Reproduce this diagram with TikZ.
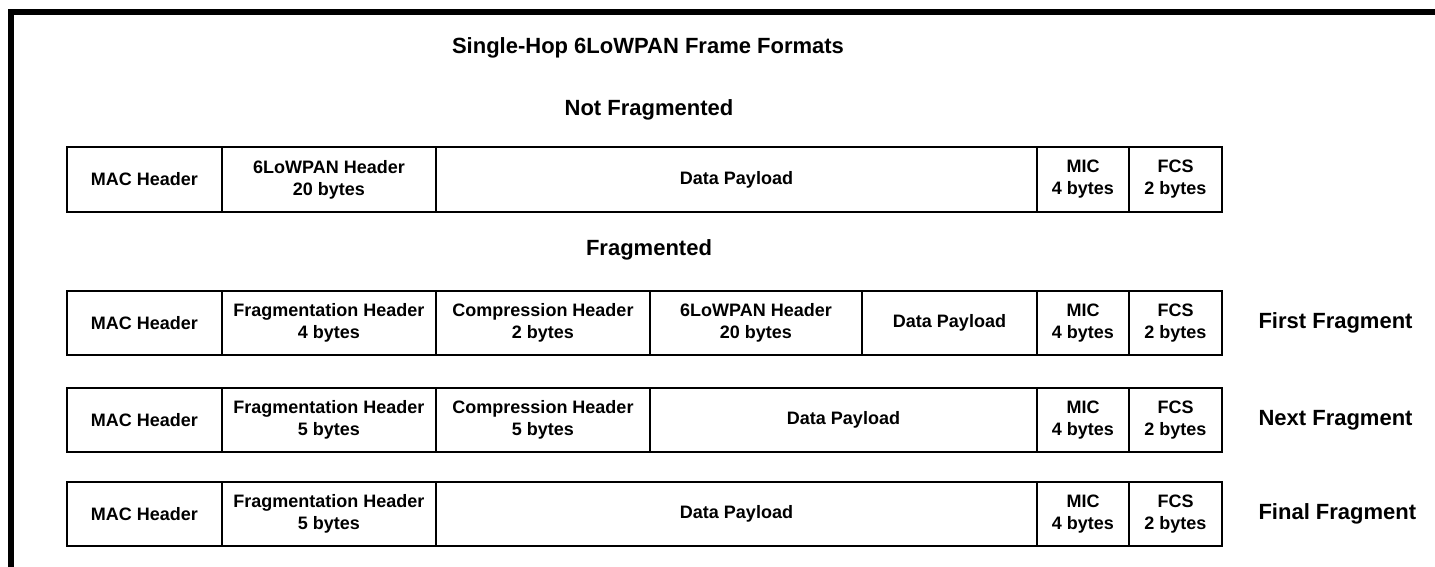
\documentclass[tikz,border=0pt]{standalone}
\usepackage{fontspec}
\setmainfont{Liberation Sans}
\usetikzlibrary{positioning}
\tikzset{
  campo/.style={draw, line width=2pt, minimum height=64pt, inner sep=0pt,
    outer sep=0pt, align=center, font=\bfseries\fontsize{18}{22}\selectfont},
  titulo/.style={font=\bfseries\fontsize{22}{26}\selectfont},
}
\newcommand{\campo}[3]{\node(#1) [campo, minimum width=#2pt, right=0pt of #3]}

\begin{document}
\begin{tikzpicture}[x=1pt, y=-1pt]
      \useasboundingbox (0,0) rectangle (1435,567);
      \draw[line width=6pt] (11,567) -- (11,12.5) -- (1435,12.5);

      % títulos
      \node(titulo) [titulo] at (648,48)  {Single-Hop 6LoWPAN Frame Formats};
      \node(naofrag) [titulo] at (649,110) {Not Fragmented};
      \node(frag)   [titulo] at (649,250) {Fragmented};

      % sem fragmentação
      \coordinate(a0) at (67,179.5);
      \campo{mac1}{155}{a0} {MAC Header};
      \campo{low1}{214}{mac1} {6LoWPAN Header\\20 bytes};
      \campo{dad1}{601}{low1} {Data Payload};
      \campo{mic1}{92}{dad1} {MIC\\4 bytes};
      \campo{fcs1}{93}{mic1} {FCS\\2 bytes};

      % primeiro fragmento
      \coordinate(b0) at (67,323);
      \campo{mac2}{155}{b0} {MAC Header};
      \campo{fra2}{214}{mac2} {Fragmentation Header\\4 bytes};
      \campo{com2}{214}{fra2} {Compression Header\\2 bytes};
      \campo{low2}{212}{com2} {6LoWPAN Header\\20 bytes};
      \campo{dad2}{175}{low2} {Data Payload};
      \campo{mic2}{92}{dad2} {MIC\\4 bytes};
      \campo{fcs2}{93}{mic2} {FCS\\2 bytes};
      \node(prim) [titulo, right=33pt of fcs2] {First Fragment};

      % próximo fragmento
      \coordinate(c0) at (67,420);
      \campo{mac3}{155}{c0} {MAC Header};
      \campo{fra3}{214}{mac3} {Fragmentation Header\\5 bytes};
      \campo{com3}{214}{fra3} {Compression Header\\5 bytes};
      \campo{dad3}{387}{com3} {Data Payload};
      \campo{mic3}{92}{dad3} {MIC\\4 bytes};
      \campo{fcs3}{93}{mic3} {FCS\\2 bytes};
      \node(prox) [titulo, right=33pt of fcs3] {Next Fragment};

      % último fragmento
      \coordinate(d0) at (67,514);
      \campo{mac4}{155}{d0} {MAC Header};
      \campo{fra4}{214}{mac4} {Fragmentation Header\\5 bytes};
      \campo{dad4}{601}{fra4} {Data Payload};
      \campo{mic4}{92}{dad4} {MIC\\4 bytes};
      \campo{fcs4}{93}{mic4} {FCS\\2 bytes};
      \node(ult) [titulo, right=33pt of fcs4] {Final Fragment};
   \end{tikzpicture}
\end{document}
